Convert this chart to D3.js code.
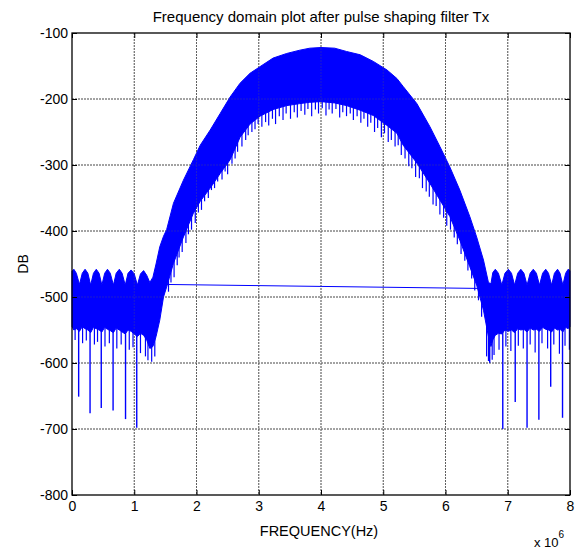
<!DOCTYPE html>
<html>
<head>
<meta charset="utf-8">
<script src="https://cdn.jsdelivr.net/npm/d3@7"></script>
<style>
  body { margin: 0; background: #fff; }
  text { font-family: "Liberation Sans", Arial, sans-serif; fill: #000; }
</style>
</head>
<body>
<script>
// frequency in units of 1e6 Hz, magnitude in DB
var xTicks = [0, 1, 2, 3, 4, 5, 6, 7, 8];
var yTicks = [-800, -700, -600, -500, -400, -300, -200, -100];

// envelope of the dense spectrum (upper and lower edge of the blue band)
var bandFreq = [0.00, 0.03, 0.07, 0.12, 0.165, 0.21, 0.255, 0.30, 0.345, 0.39, 0.435, 0.48, 0.525, 0.57, 0.615, 0.665,
  0.71, 0.76, 0.805, 0.855, 0.90, 0.95, 1.00, 1.05, 1.10, 1.15, 1.20, 1.25, 1.30,
  1.35, 1.41, 1.47, 1.52, 1.63, 1.79, 1.95, 2.06, 2.22, 2.38, 2.54, 2.70, 2.86, 3.02, 3.23, 3.45, 3.66, 3.82,
  4.00, 4.22, 4.41, 4.63, 4.84, 5.06, 5.22, 5.32, 5.54, 5.75, 5.91, 6.07, 6.23, 6.39, 6.50, 6.61, 6.69, 6.73,
  6.76, 6.80, 6.85, 6.905, 6.955, 7.01, 7.06, 7.11, 7.16, 7.21, 7.26, 7.31, 7.36, 7.41, 7.46, 7.51, 7.56, 7.61,
  7.655, 7.705, 7.75, 7.80, 7.84, 7.885, 7.93, 7.97, 8.00];
var bandHigh = [-461, -458, -464, -481, -464, -458, -464, -482, -464, -458, -464, -482, -464, -458, -464, -482,
  -464, -458, -464, -482, -464, -459, -465, -482, -465, -460, -467, -478, -470,
  -450, -424, -408, -398, -358, -323, -292, -270, -247, -222, -197, -176, -161, -151, -138, -131, -126, -123,
  -122, -123, -128, -133, -143, -156, -169, -181, -207, -242, -272, -303, -338, -378, -409, -444, -478, -480,
  -463, -458, -464, -482, -464, -458, -464, -482, -464, -458, -464, -482, -464, -458, -464, -482, -464, -458,
  -464, -482, -464, -458, -464, -482, -464, -458, -460];
var bandLow = [-545, -550, -548, -552, -545, -548, -550, -554, -546, -548, -550, -553, -546, -549, -551, -554,
  -547, -550, -553, -556, -550, -552, -556, -560, -555, -558, -565, -578, -575,
  -560, -535, -500, -485, -449, -409, -373, -355, -335, -313, -292, -258, -238, -226, -216, -210, -207, -205,
  -204, -206, -210, -217, -225, -240, -252, -270, -297, -328, -353, -378, -414, -454, -482, -520, -560, -575,
  -565, -558, -555, -556, -550, -552, -550, -554, -548, -550, -549, -553, -547, -550, -549, -552, -546, -549,
  -550, -553, -547, -550, -549, -553, -546, -548, -545];

// deep notches of the noise floor
var notchFreq = [0.107, 0.29, 0.47, 0.66, 0.86, 1.04, 6.71, 6.92, 7.12, 7.31, 7.50, 7.69, 7.88];
var notchDb = [-651, -676, -668, -672, -685, -698, -600, -700, -659, -698, -686, -636, -683];

// shorter dips hanging below the band
var dipFreq = [0.05, 0.17, 0.23, 0.36, 0.41, 0.53, 0.60, 0.72, 0.79, 0.92, 0.98, 1.10, 1.18, 1.22, 1.28, 1.33,
  1.55, 1.59, 1.64, 1.69, 1.72, 1.77, 1.83, 1.87, 1.92, 1.98, 2.03, 2.08, 2.13, 2.19, 2.24, 2.29, 2.34, 2.41,
  2.46, 2.50, 2.57, 2.62, 2.66, 2.73, 2.79, 2.83, 2.89, 2.94, 2.99, 3.05, 3.11, 3.16, 3.22, 3.27, 3.33, 3.39,
  3.44, 3.51, 3.57, 3.62, 3.68, 3.74, 3.79, 3.85, 3.91, 3.96, 4.02, 4.08, 4.13, 4.18, 4.24, 4.30, 4.35, 4.41,
  4.47, 4.52, 4.58, 4.64, 4.69, 4.75, 4.80, 4.86, 4.91, 4.97, 5.02, 5.08, 5.13, 5.19, 5.24, 5.29, 5.35, 5.41,
  5.46, 5.52, 5.58, 5.63, 5.69, 5.74, 5.80, 5.85, 5.91, 5.97, 6.02, 6.08, 6.14, 6.19, 6.25, 6.31, 6.36, 6.42,
  6.47, 6.53, 6.58,
  6.66, 6.69, 6.75, 6.78, 6.86, 6.97, 7.05, 7.17, 7.25, 7.36, 7.44, 7.55, 7.64, 7.74, 7.83, 7.92, 7.99];
var dipDb = [-565, -570, -566, -572, -568, -575, -570, -578, -572, -580, -576, -585, -590, -596, -598, -590,
  -492, -478, -470, -452, -440, -432, -418, -405, -398, -388, -372, -368, -355, -350, -338, -335, -325, -322,
  -310, -314, -298, -290, -280, -272, -262, -255, -250, -246, -238, -242, -235, -240, -230, -238, -226, -232,
  -222, -230, -220, -228, -218, -224, -215, -226, -216, -222, -214, -225, -216, -222, -215, -228, -220, -226,
  -222, -232, -226, -236, -230, -242, -236, -250, -244, -258, -252, -265, -262, -272, -270, -285, -290, -302,
  -305, -318, -320, -335, -340, -348, -360, -362, -375, -380, -392, -398, -410, -420, -435, -445, -460, -472,
  -490, -505, -530,
  -590, -597, -595, -588, -580, -575, -582, -574, -578, -572, -584, -570, -578, -572, -586, -574, -580];

// straight segment joining the two halves of the noise floor
var jumpFreq = [1.52, 6.52];
var jumpDb = [-481, -487];

var W = 578, H = 550;
var margin = {top: 33, right: 8, bottom: 55, left: 72};
var width = W - margin.left - margin.right;
var height = H - margin.top - margin.bottom;
var blue = "#0000ff";

var svg = d3.select("body").append("svg")
    .attr("width", W)
    .attr("height", H);

var g = svg.append("g")
    .attr("transform", "translate(" + margin.left + "," + margin.top + ")");

var x = d3.scaleLinear().domain([0, 8]).range([0, width]);
var y = d3.scaleLinear().domain([-800, -100]).range([height, 0]);

function drawGrid(parent) {
  var grid = parent.append("g");
  grid.selectAll("line.gx")
      .data(xTicks.slice(1, -1))
    .enter().append("line")
      .attr("class", "gx")
      .attr("x1", function(d) { return x(d); })
      .attr("x2", function(d) { return x(d); })
      .attr("y1", 0)
      .attr("y2", height);
  grid.selectAll("line.gy")
      .data(yTicks.slice(1, -1))
    .enter().append("line")
      .attr("class", "gy")
      .attr("x1", 0)
      .attr("x2", width)
      .attr("y1", function(d) { return y(d); })
      .attr("y2", function(d) { return y(d); });
  grid.selectAll("line")
      .attr("stroke", "#606060")
      .attr("stroke-width", 1)
      .attr("stroke-dasharray", "2,1");
  return grid;
}

drawGrid(g);

// spectrum
var band = bandFreq.map(function(f, i) { return {f: f, hi: bandHigh[i], lo: bandLow[i]}; });
var area = d3.area()
    .x(function(d) { return x(d.f); })
    .y0(function(d) { return y(d.lo); })
    .y1(function(d) { return y(d.hi); });

var plot = g.append("g");

plot.append("path")
    .datum(band)
    .attr("d", area)
    .attr("fill", blue)
    .attr("stroke", blue)
    .attr("stroke-width", 1);

plot.selectAll("line.notch")
    .data(notchFreq)
  .enter().append("line")
    .attr("class", "notch")
    .attr("x1", function(d) { return x(d); })
    .attr("x2", function(d) { return x(d); })
    .attr("y1", y(-540))
    .attr("y2", function(d, i) { return y(notchDb[i]); })
    .attr("stroke", blue)
    .attr("stroke-width", 1.4);

plot.selectAll("line.dip")
    .data(dipFreq)
  .enter().append("line")
    .attr("class", "dip")
    .attr("x1", function(d) { return x(d); })
    .attr("x2", function(d) { return x(d); })
    .attr("y1", function(d, i) { return y(dipDb[i] + 50); })
    .attr("y2", function(d, i) { return y(dipDb[i]); })
    .attr("stroke", blue)
    .attr("stroke-width", 1.2);

var line = d3.line()
    .x(function(d) { return x(d[0]); })
    .y(function(d) { return y(d[1]); });

plot.append("path")
    .datum(jumpFreq.map(function(f, i) { return [f, jumpDb[i]]; }))
    .attr("d", line)
    .attr("fill", "none")
    .attr("stroke", blue)
    .attr("stroke-width", 1);

// grid shows faintly through the trace
drawGrid(g).attr("opacity", 0.3);

// axes with inward ticks
var fmt = function(d) { return String(d); };
g.append("g")
    .attr("transform", "translate(0," + height + ")")
    .call(d3.axisBottom(x).tickValues(xTicks).tickSize(-5).tickPadding(6).tickFormat(fmt));
g.append("g")
    .call(d3.axisLeft(y).tickValues(yTicks).tickSize(-5).tickPadding(4).tickFormat(fmt));
g.append("g")
    .call(d3.axisTop(x).tickValues(xTicks).tickSize(-5).tickFormat(""));
g.append("g")
    .attr("transform", "translate(" + width + ",0)")
    .call(d3.axisRight(y).tickValues(yTicks).tickSize(-5).tickFormat(""));

g.selectAll(".domain").remove();
g.selectAll(".tick line").attr("stroke", "#000");
g.selectAll(".tick text")
    .style("font-size", "14px")
    .style("font-family", "'Liberation Sans', Arial, sans-serif");

g.append("rect")
    .attr("width", width)
    .attr("height", height)
    .attr("fill", "none")
    .attr("stroke", "#000")
    .attr("stroke-width", 1.3);

// labels
svg.append("text")
    .attr("x", margin.left + width / 2)
    .attr("y", 22)
    .attr("text-anchor", "middle")
    .style("font-size", "15px")
    .text("Frequency domain plot after pulse shaping filter Tx");

svg.append("text")
    .attr("x", margin.left + width / 2 - 2)
    .attr("y", 536)
    .attr("text-anchor", "middle")
    .style("font-size", "14.5px")
    .text("FREQUENCY(Hz)");

svg.append("text")
    .attr("transform", "translate(28," + (margin.top + height / 2) + ") rotate(-90)")
    .attr("text-anchor", "middle")
    .style("font-size", "14px")
    .text("DB");

var mult = svg.append("text")
    .attr("x", 534)
    .attr("y", 547)
    .style("font-size", "13px");
mult.append("tspan").text("x 10");
mult.append("tspan")
    .attr("dy", -9)
    .style("font-size", "10px")
    .text("6");
</script>
</body>
</html>
